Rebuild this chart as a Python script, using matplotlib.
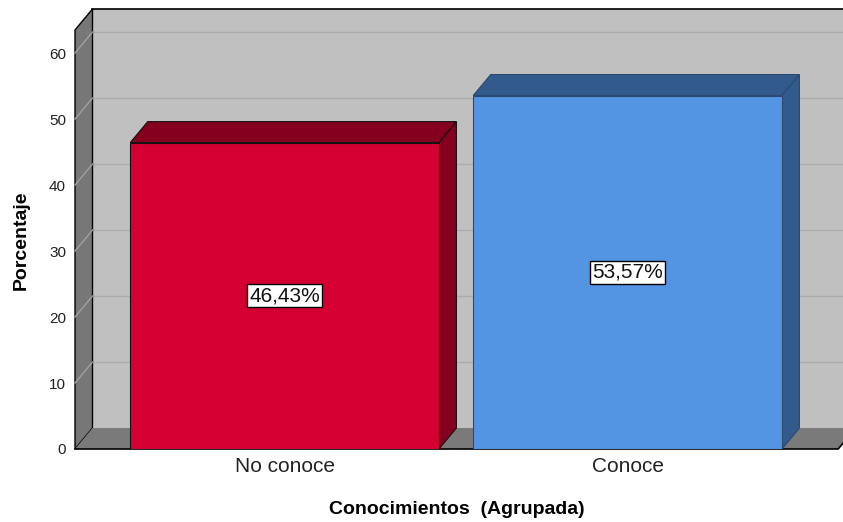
import matplotlib.pyplot as plt
from matplotlib.patches import Polygon
import numpy as np

plt.rcParams['font.family'] = ['Liberation Sans', 'DejaVu Sans']

categories = ['No conoce', 'Conoce']
percent = [46.43, 53.57]
labels = ['46,43%', '53,57%']
yticks = [0, 10, 20, 30, 40, 50, 60]

front_colors = ['#d50032', '#5495e3']
dark_colors = ['#85001f', '#335a8c']
edge_colors = ['#111111', '#2c4a70']

# 3d look: depth offset in data units
dx = 0.051
dz = 3.18
x_left = -0.611
x_right = 1.614
y_top = 63.5
bar_w = 0.9

fig = plt.figure(figsize=(8.43, 5.22), dpi=100)
ax = fig.add_axes([75 / 843, 73 / 522, 768 / 843, 440 / 522])
ax.set_xlim(x_left, 1.628)
ax.set_ylim(0, y_top + dz)

# back wall
ax.add_patch(Polygon([(x_left + dx, dz), (x_right + dx + 0.2, dz),
                      (x_right + dx + 0.2, y_top + dz), (x_left + dx, y_top + dz)],
                     closed=True, facecolor='#c0c0c0', edgecolor='none', zorder=1))
ax.plot([x_left + dx, x_right + dx + 0.2], [y_top + dz, y_top + dz], color='black', lw=1.2, zorder=2, clip_on=False)
# left wall
ax.add_patch(Polygon([(x_left, 0), (x_left + dx, dz), (x_left + dx, y_top + dz), (x_left, y_top)],
                     closed=True, facecolor='#777777', edgecolor='black', lw=1.0, zorder=2, clip_on=False))
# grid lines
for t in yticks[1:]:
    ax.plot([x_left + dx, x_right + dx + 0.2], [t + dz, t + dz], color='#acacac', lw=1.0, zorder=1.5)
    ax.plot([x_left, x_left + dx], [t, t + dz], color='#a0a0a0', lw=1.0, zorder=2.5, clip_on=False)
# floor
ax.add_patch(Polygon([(x_left, 0), (x_right, 0), (x_right + dx, dz), (x_left + dx, dz)],
                     closed=True, facecolor='#7a7a7a', edgecolor='none', zorder=2, clip_on=False))
ax.plot([x_left, x_right, x_right + dx], [0, 0, dz], color='black', lw=1.2, zorder=2.6, clip_on=False)

x = np.arange(len(categories))
for i, v in enumerate(percent):
    x0 = x[i] - bar_w / 2
    x1 = x[i] + bar_w / 2
    # top face
    ax.add_patch(Polygon([(x0, v), (x1, v), (x1 + dx, v + dz), (x0 + dx, v + dz)], closed=True,
                         facecolor=dark_colors[i], edgecolor=edge_colors[i], lw=0.8, zorder=3))
    # side face
    ax.add_patch(Polygon([(x1, 0), (x1 + dx, dz), (x1 + dx, v + dz), (x1, v)], closed=True,
                         facecolor=dark_colors[i], edgecolor=edge_colors[i], lw=0.8, zorder=3))
ax.bar(x, percent, width=bar_w, color=front_colors, edgecolor=edge_colors, linewidth=0.8, zorder=4)

for i, v in enumerate(percent):
    ax.text(x[i], v / 2, labels[i], ha='center', va='center', fontsize=15, zorder=5, color='#111111',
            bbox=dict(boxstyle='square,pad=0.1', facecolor='white', edgecolor='black', lw=1.0))

for s in ax.spines.values():
    s.set_visible(False)
ax.set_yticks(yticks)
ax.set_yticklabels([str(t) for t in yticks], fontsize=11, color='#222222')
ax.tick_params(axis='y', length=0, pad=6.5)
ax.set_xticks(x)
ax.set_xticklabels(categories, fontsize=15, color='#222222')
ax.tick_params(axis='x', length=0, pad=6)
ax.patch.set_visible(False)

fig.text(457 / 843, 1 - 510 / 522, 'Conocimientos  (Agrupada)', ha='center', va='center',
         fontsize=14, fontweight='bold')
fig.text(21 / 843, 1 - 240 / 522, 'Porcentaje', ha='center', va='center', rotation=90,
         fontsize=14, fontweight='bold')

fig.savefig('out.png', dpi=100)
